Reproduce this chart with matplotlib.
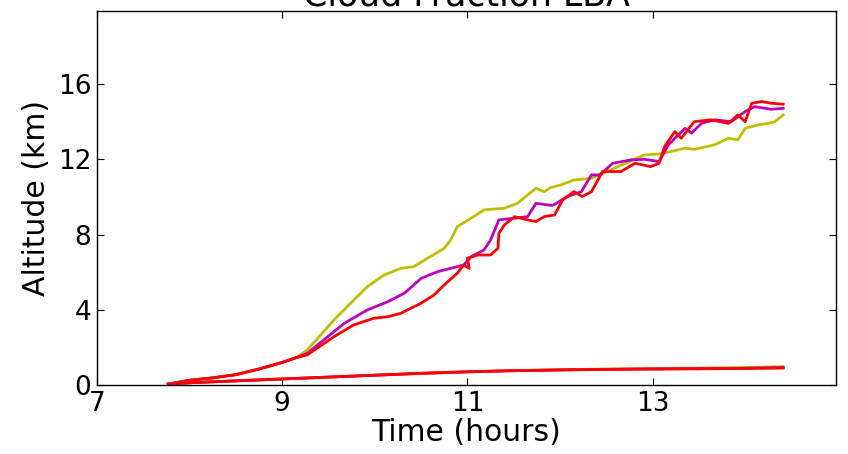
import matplotlib
matplotlib.use("Agg")
import matplotlib.pyplot as plt

# shared early part
t_early = [7.77, 8.0, 8.25, 8.5, 8.75, 9.0, 9.15]
z_early = [0.05, 0.25, 0.38, 0.55, 0.85, 1.2, 1.45]

t_yel = [9.27, 9.56, 9.74, 9.92, 10.10, 10.28, 10.42, 10.57, 10.75, 10.82, 10.89, 11.04,
         11.18, 11.40, 11.54, 11.65, 11.74, 11.83, 11.90, 12.01, 12.15, 12.34, 12.62,
         12.91, 13.09, 13.35, 13.45, 13.67, 13.82, 13.92, 14.0, 14.14, 14.25, 14.32, 14.41]
z_yel = [1.86, 3.46, 4.35, 5.23, 5.85, 6.2, 6.29, 6.74, 7.27, 7.71, 8.42, 8.87,
         9.31, 9.40, 9.66, 10.1, 10.46, 10.28, 10.50, 10.64, 10.9, 10.99, 11.6,
         12.23, 12.29, 12.59, 12.53, 12.77, 13.12, 13.03, 13.65, 13.83, 13.91, 14.0, 14.36]

t_mag = [9.27, 9.67, 9.92, 10.14, 10.32, 10.50, 10.68, 10.89, 10.96, 11.04, 11.18, 11.25,
         11.34, 11.51, 11.65, 11.74, 11.92, 12.08, 12.23, 12.34, 12.43, 12.57, 12.77,
         12.91, 13.07, 13.17, 13.35, 13.42, 13.53, 13.67, 13.85, 14.0, 14.10, 14.28, 14.41]
z_mag = [1.68, 3.28, 3.99, 4.43, 4.88, 5.67, 6.03, 6.29, 6.38, 6.82, 7.18, 7.71,
         8.78, 8.87, 8.95, 9.66, 9.54, 10.02, 10.28, 11.17, 11.17, 11.79, 11.97,
         12.0, 11.88, 12.77, 13.65, 13.39, 13.92, 14.1, 14.0, 14.54, 14.8, 14.66, 14.71]

t_red = [9.27, 9.56, 9.77, 9.99, 10.14, 10.28, 10.50, 10.64, 10.75, 10.89, 10.96, 11.02,
         11.0, 11.11, 11.25, 11.33, 11.34, 11.40, 11.51, 11.65, 11.74, 11.83, 11.94,
         12.03, 12.15, 12.24, 12.34, 12.46, 12.66, 12.81, 12.98, 13.07, 13.13, 13.24,
         13.31, 13.45, 13.63, 13.82, 13.92, 14.0, 14.07, 14.18, 14.28, 14.41]
z_red = [1.6, 2.57, 3.19, 3.55, 3.63, 3.81, 4.35, 4.79, 5.32, 5.94, 6.38, 6.2,
         6.74, 6.91, 6.91, 7.27, 8.07, 8.51, 8.95, 8.78, 8.69, 8.95, 9.04,
         9.84, 10.28, 10.02, 10.28, 11.35, 11.35, 11.79, 11.61, 11.79, 12.68, 13.47,
         13.12, 14.0, 14.1, 13.91, 14.36, 14.0, 14.98, 15.07, 14.98, 14.93]

# lower (cloud base) curves
t_low = [7.77, 8.0, 8.5, 9.0, 9.5, 10.0, 10.5, 11.0, 11.5, 12.0, 12.5, 13.0, 13.5, 14.0, 14.41]
z_low_yel = [0.05, 0.12, 0.22, 0.32, 0.42, 0.52, 0.62, 0.70, 0.77, 0.81, 0.85, 0.88, 0.90, 0.93, 0.98]
z_low_mag = [0.05, 0.12, 0.22, 0.32, 0.42, 0.52, 0.62, 0.70, 0.76, 0.80, 0.83, 0.85, 0.87, 0.89, 0.93]
z_low_red = [0.05, 0.12, 0.22, 0.32, 0.42, 0.52, 0.62, 0.70, 0.76, 0.80, 0.83, 0.85, 0.86, 0.88, 0.90]

xticks = [7, 9, 11, 13]
yticks = [0, 4, 8, 12, 16]

C_Y = (0.75, 0.75, 0.0)
C_M = (0.75, 0.0, 0.75)
C_R = (1.0, 0.0, 0.0)

fig = plt.figure(figsize=(8.48, 4.54), dpi=100)
ax = fig.add_axes([0.1144, 0.152, 0.9858 - 0.1144, 0.9764 - 0.152])

lw = 2.0
ax.plot(t_early + t_yel, z_early + z_yel, color=C_Y, lw=lw)
ax.plot(t_early + t_mag, z_early + z_mag, color=C_M, lw=lw)
ax.plot(t_early + t_red, z_early + z_red, color=C_R, lw=lw)
ax.plot(t_low, z_low_yel, color=C_Y, lw=lw)
ax.plot(t_low, z_low_mag, color=C_M, lw=lw)
ax.plot(t_low, z_low_red, color=C_R, lw=lw)

ax.set_xlim(7, 14.98)
ax.set_ylim(0, 19.9)
ax.set_xticks(xticks)
ax.set_yticks(yticks)
ax.tick_params(direction='in', top=True, right=True, length=5, width=0.8,
               labelsize=19, pad=4)
ax.set_xlabel("Time (hours)", fontsize=21.5, labelpad=1)
ax.set_ylabel("Altitude (km)", fontsize=21.5, labelpad=5)
ax.set_title("Cloud Fraction LBA", fontsize=25, pad=3.5)
for s in ax.spines.values():
    s.set_linewidth(1.0)

fig.savefig("out.png", dpi=100)
